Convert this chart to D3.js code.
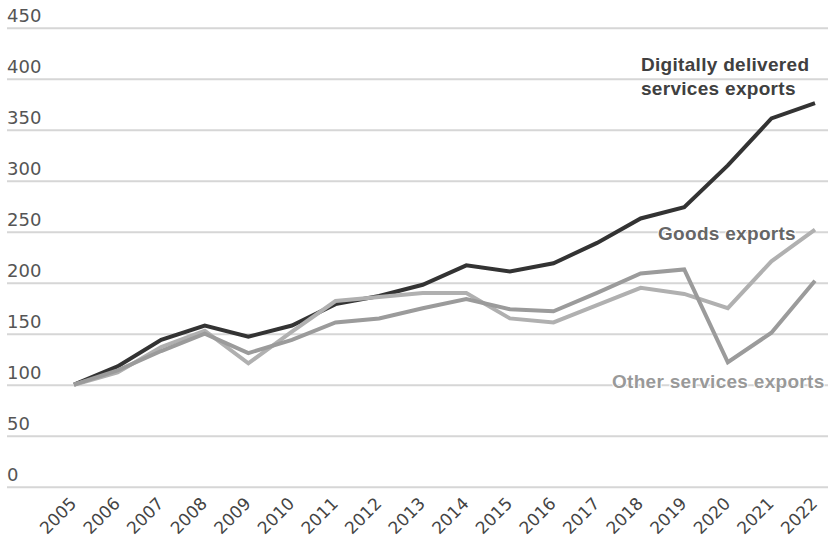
<!DOCTYPE html>
<html>
<head>
<meta charset="utf-8">
<script src="https://cdn.jsdelivr.net/npm/d3@7"></script>
<style>
  html, body { margin: 0; padding: 0; background: #fff; }
  svg { display: block; }
</style>
</head>
<body>
<svg id="chart" width="828" height="542"></svg>
<script>
// Export indices, 2005 = 100
const years = [2005, 2006, 2007, 2008, 2009, 2010, 2011, 2012, 2013, 2014, 2015, 2016, 2017, 2018, 2019, 2020, 2021, 2022];
const digitalExports = [100, 118, 144, 158, 147, 158, 179, 187, 198, 217, 211, 219, 239, 263, 274, 315, 361, 376];
const goodsExports   = [100, 112, 137, 153, 121, 152, 182, 186, 190, 190, 165, 161, 178, 195, 189, 175, 221, 252];
const otherExports   = [100, 114, 133, 150, 131, 144, 161, 165, 175, 184, 174, 172, 190, 209, 213, 122, 151, 202];
const yTicks = [0, 50, 100, 150, 200, 250, 300, 350, 400, 450];

const W = 828, H = 542;
const svg = d3.select("#chart");

const x = d3.scalePoint().domain(years).range([74, 815]);
const y = d3.scaleLinear().domain([0, 450]).range([486.7, 27.7]);

const tickFont = "'DejaVu Sans', sans-serif";
const labelFont = "'Liberation Sans', Arial, sans-serif";

// Horizontal grid with value labels sitting above each line
const yAxis = svg.append("g")
  .attr("transform", "translate(7,0)")
  .call(d3.axisLeft(y).tickValues(yTicks).tickSize(-821).tickPadding(0));
yAxis.select(".domain").remove();
yAxis.selectAll(".tick line").attr("stroke", "#d6d6d6").attr("stroke-width", 2);
yAxis.selectAll(".tick text")
  .attr("x", 0).attr("dy", -6)
  .attr("text-anchor", "start")
  .attr("fill", "#555")
  .style("font-family", tickFont)
  .style("font-size", "18px");

// Year labels, slanted
const xAxis = svg.append("g")
  .attr("transform", "translate(0,486.7)")
  .call(d3.axisBottom(x).tickSize(0).tickPadding(0));
xAxis.select(".domain").remove();
xAxis.selectAll(".tick text")
  .attr("text-anchor", "end")
  .attr("dy", 0)
  .attr("y", 0)
  .attr("transform", "translate(3,18) rotate(-45)")
  .attr("fill", "#444")
  .style("font-family", tickFont)
  .style("font-size", "17px");

const line = d3.line()
  .x((d, i) => x(years[i]))
  .y(d => y(d));

const series = [
  { values: digitalExports, color: "#333333" },
  { values: goodsExports,   color: "#b0b0b0" },
  { values: otherExports,   color: "#9b9b9b" }
];

svg.append("g").selectAll("path")
  .data(series)
  .join("path")
  .attr("d", d => line(d.values))
  .attr("fill", "none")
  .attr("stroke", d => d.color)
  .attr("stroke-width", 4);

// Series labels
const labels = [
  { lines: ["Digitally delivered", "services exports"], x: 641, y: 71, color: "#404040" },
  { lines: ["Goods exports"], x: 658, y: 240, color: "#666666" },
  { lines: ["Other services exports"], x: 612, y: 388, color: "#999999" }
];

labels.forEach(l => {
  const t = svg.append("text")
    .attr("x", l.x).attr("y", l.y)
    .attr("fill", l.color)
    .attr("stroke", "#fff")
    .attr("stroke-width", 2)
    .attr("paint-order", "stroke")
    .style("font-family", labelFont)
    .style("font-weight", "bold")
    .style("font-size", "19px")
    .style("letter-spacing", "0.3px");
  l.lines.forEach((s, i) => {
    t.append("tspan").attr("x", l.x).attr("dy", i === 0 ? 0 : 24).text(s);
  });
});
</script>
</body>
</html>
